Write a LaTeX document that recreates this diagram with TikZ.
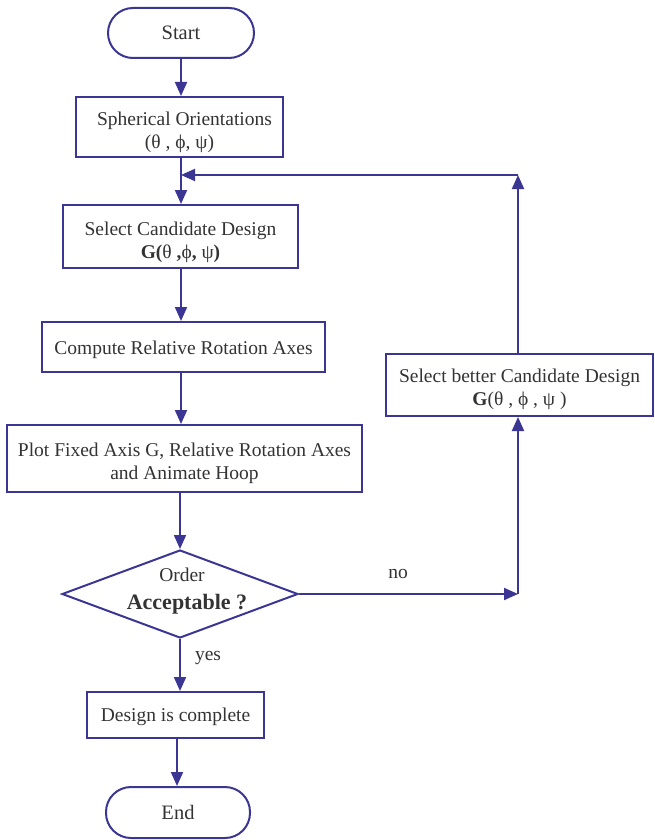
\documentclass[tikz,border=0pt]{standalone}
\usepackage{fontspec}
\setmainfont{Liberation Serif}
\usetikzlibrary{arrows.meta,shapes.geometric}
\definecolor{ln}{HTML}{3B3694}
\definecolor{tx}{HTML}{333333}
\tikzset{
  box/.style={draw=ln,line width=2pt,rectangle,inner sep=0pt},
  txt/.style={inner sep=0pt,align=center,text=tx,font=\fontsize{19.5}{23}\selectfont},
  term/.style={draw=ln,line width=2pt,rounded corners=25pt,inner sep=0pt,text=tx,font=\fontsize{20.5}{24}\selectfont},
  flow/.style={draw=ln,line width=2pt,-{Triangle[length=14pt,width=12pt]}},
  lbl/.style={text=tx,font=\fontsize{19.5}{23}\selectfont}
}
\begin{document}
\begin{tikzpicture}[x=1pt,y=-1pt]
\useasboundingbox (0,0) rectangle (655,840);
\node[term,minimum width=146pt,minimum height=50pt] (start) at (181,33) {Start};
\node[box,minimum width=207pt,minimum height=60pt] (sph) at (179.5,127) {};
\node[txt] (sphT) at (179.5,132) {\hspace*{10pt}Spherical Orientations\\(θ , ϕ,  ψ)};
\node[box,minimum width=235pt,minimum height=63pt] (sel) at (180.5,236.5) {};
\node[txt] (selT) at (180.5,242) {Select Candidate Design\\\textbf{G(}θ\textbf{ ,}ϕ\textbf{, }ψ\textbf{)}};
\node[box,minimum width=283pt,minimum height=50pt] (comp) at (183.5,347) {};
\node[txt] (compT) at (183.5,350) {Compute Relative Rotation Axes};
\node[box,minimum width=355pt,minimum height=67pt] (plot) at (184.5,458.5) {};
\node[txt] (plotT) at (184.5,463.5) {Plot Fixed Axis G,  Relative Rotation Axes\\and Animate Hoop};
\node[draw=ln,line width=2pt,diamond,aspect=2.68,minimum width=236pt,minimum height=88pt,inner sep=0pt] (dec) at (180,594) {};
\node[lbl] (ord) at (182,575) {Order};
\node[text=tx,font=\fontsize{22}{26}\selectfont\bfseries] (acc) at (187,604) {Acceptable ?};
\node[box,minimum width=267pt,minimum height=62pt] (bet) at (519.5,385) {};
\node[txt] (betT) at (519.5,389.5) {Select better Candidate Design\\\textbf{G}(θ , ϕ , ψ )};
\node[box,minimum width=177pt,minimum height=46pt] (done) at (175.5,715) {};
\node[txt] (doneT) at (175.5,717) {Design is complete};
\node[term,minimum width=144pt,minimum height=51pt] (end) at (178,812.5) {End};
\coordinate (nocorner) at (518,594);
\coordinate (topcorner) at (518,175);
\coordinate (join) at (181,175);
\draw[flow] (start) -- (sph.north -| start);
\draw[flow] (sph.south -| 181,0) -- (sel.north -| 181,0);
\draw[flow] (sel.south -| 181,0) -- (comp.north -| 181,0);
\draw[flow] (comp.south -| 181,0) -- (plot.north -| 181,0);
\draw[flow] (plot.south -| dec.north) -- (dec.north);
\draw[flow] (dec.east) -- (nocorner);
\draw[flow] (nocorner) -- (bet.south -| nocorner);
\draw[flow] (bet.north -| topcorner) -- (topcorner);
\draw[flow] (topcorner) -- (join);
\draw[flow] (dec.south) -- (done.north -| dec.south);
\draw[flow] (done.south -| 177,0) -- (end.north -| 177,0);
\node[lbl] (no) at (398,574) {no};
\node[lbl] (yes) at (208,658) {yes};
\end{tikzpicture}
\end{document}
